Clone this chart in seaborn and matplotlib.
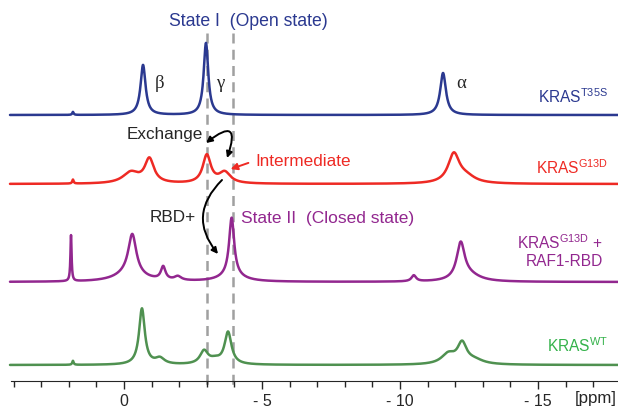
import numpy as np
import pandas as pd
import matplotlib
matplotlib.use("Agg")
import matplotlib.pyplot as plt
from matplotlib.patches import FancyArrowPatch
import seaborn as sns

# -----------------------------
# peak tables (ppm, height, full width in ppm)
# -----------------------------
t35s_ppm = [1.85, -0.69, -2.97, -11.56]
t35s_height = [3, 50, 72, 42]
t35s_width = [0.06, 0.22, 0.20, 0.25]

g13d_ppm = [1.85, -0.25, -0.92, -3.0, -3.65, -11.95, -12.4]
g13d_height = [4, 11, 24, 28, 11, 29, 6]
g13d_width = [0.06, 0.7, 0.4, 0.35, 0.5, 0.5, 0.8]

rbd_ppm = [1.92, -0.3, -0.2, -1.42, -1.95, -3.9, -3.9, -10.5, -12.2, -12.5]
rbd_height = [46, 40, 8, 13, 4, 58, 6, 6, 36, 6]
rbd_width = [0.05, 0.35, 1.2, 0.2, 0.3, 0.22, 1.0, 0.2, 0.35, 1.0]

wt_ppm = [1.85, -0.65, -1.3, -2.9, -3.3, -3.77, -11.75, -12.25, -12.7]
wt_height = [4, 56, 6, 13, 4, 32, 10, 20, 4]
wt_width = [0.06, 0.25, 0.4, 0.35, 0.5, 0.3, 0.6, 0.4, 0.8]

state_lines = [-3.0, -3.95]
major_ticks = [0, -5, -10, -15]
major_labels = ["0", "- 5", "- 10", "- 15"]

BLUE = "#2b3990"
RED = "#ee2a24"
PURPLE = "#92278f"
GREEN = "#4f9150"
GREEN_TXT = "#34b24a"
GREY = "#a0a0a0"


def spectrum(ppm_axis, centers, heights, widths, base):
    y = np.full_like(ppm_axis, float(base))
    for c, h, w in zip(centers, heights, widths):
        y += h / (1 + ((ppm_axis - c) / (w / 2)) ** 2)
    return y


# pixel position of the reference -> data coords (layout helpers)
def px(xp):
    return -(xp - 124) / 27.6


def py(yp):
    return 381 - yp


sns.set_style("ticks")
plt.rcParams["font.family"] = ["Liberation Sans", "DejaVu Sans"]
plt.rcParams["mathtext.fontset"] = "custom"
plt.rcParams["mathtext.rm"] = "Liberation Sans"

fig = plt.figure(figsize=(6.18, 4.09), dpi=100)
ax = fig.add_axes([0, 28 / 409, 1, 381 / 409])

grid = np.linspace(px(10), px(618), 3000)
series = [
    (t35s_ppm, t35s_height, t35s_width, py(115), BLUE),
    (g13d_ppm, g13d_height, g13d_width, py(184), RED),
    (rbd_ppm, rbd_height, rbd_width, py(282), PURPLE),
    (wt_ppm, wt_height, wt_width, py(365), GREEN),
]
for centers, heights, widths, base, col in series:
    df = pd.DataFrame({"ppm": grid,
                       "I": spectrum(grid, centers, heights, widths, base)})
    sns.lineplot(data=df, x="ppm", y="I", ax=ax, color=col, lw=1.8,
                 sort=False, estimator=None, errorbar=None)

for xv in state_lines:
    ax.plot([xv, xv], [py(33), py(390)], color=GREY, lw=1.8,
            ls=(0, (4, 2.5)), clip_on=False, zorder=0)

ax.set_xlim(px(0), px(618))
ax.set_ylim(0, 381)
ax.set_xlabel("")
ax.set_ylabel("")
ax.set_yticks([])
for s in ["left", "top", "right"]:
    ax.spines[s].set_visible(False)
ax.spines["bottom"].set_bounds(px(11), px(618))
ax.set_xticks(major_ticks)
ax.set_xticklabels(major_labels)
ax.set_xticks(np.arange(4, -18, -1), minor=True)
ax.tick_params(axis="x", which="major", length=6, width=1, labelsize=11.5, pad=3)
ax.tick_params(axis="x", which="minor", length=4, width=1)
ax.text(px(596), py(399), "[ppm]", fontsize=12.2, ha="center", va="center",
        clip_on=False)

# text annotations
ax.text(px(169), py(21), "State I  (Open state)", color=BLUE, fontsize=12.7,
        ha="left", va="center")
ax.text(px(241), py(218), "State II  (Closed state)", color=PURPLE,
        fontsize=12.5, ha="left", va="center")
for lab, xp in [("β", 160), ("γ", 220), ("α", 461)]:
    ax.text(px(xp), py(83), lab, fontsize=13.5, ha="center", va="center",
            family=["Liberation Serif", "DejaVu Serif"])
ax.text(px(127), py(135), "Exchange", fontsize=12.3, ha="left", va="center")
ax.text(px(150), py(218), "RBD+", fontsize=12.3, ha="left", va="center")
ax.text(px(255), py(161), "Intermediate", color=RED, fontsize=12.3,
        ha="left", va="center")

ax.add_patch(FancyArrowPatch((px(251), py(162)), (px(228), py(170)),
                             arrowstyle="-|>", mutation_scale=10, color=RED,
                             lw=1.4))
ax.add_patch(FancyArrowPatch((px(206), py(143)), (px(227), py(158)),
                             arrowstyle="<|-|>", mutation_scale=9, color="black",
                             lw=1.4, shrinkA=0, shrinkB=0,
                             connectionstyle="arc3,rad=-1.7"))
ax.add_patch(FancyArrowPatch((px(222), py(180)), (px(218), py(254)),
                             arrowstyle="-|>", mutation_scale=9, color="black",
                             lw=1.4, shrinkA=0, shrinkB=0,
                             connectionstyle="arc3,rad=0.45"))

# sample labels
ax.text(px(608), py(97), r"KRAS$^{\mathrm{T35S}}$", color=BLUE, fontsize=11.2,
        ha="right", va="center")
ax.text(px(608), py(168), r"KRAS$^{\mathrm{G13D}}$", color=RED, fontsize=11.2,
        ha="right", va="center")
ax.text(px(603), py(243), r"KRAS$^{\mathrm{G13D}}$ +", color=PURPLE,
        fontsize=11.2, ha="right", va="center")
ax.text(px(603), py(262), "RAF1-RBD", color=PURPLE, fontsize=11.2,
        ha="right", va="center")
ax.text(px(608), py(346), r"KRAS$^{\mathrm{WT}}$", color=GREEN_TXT,
        fontsize=11.2, ha="right", va="center")

fig.savefig("out.png", dpi=100)
